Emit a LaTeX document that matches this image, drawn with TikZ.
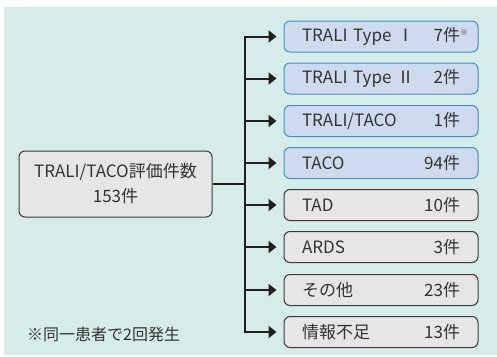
\documentclass[tikz,border=0pt]{standalone}
\usepackage{fontspec}
\setmainfont{Noto Sans CJK JP}
\usetikzlibrary{arrows.meta}

\definecolor{bgmint}{HTML}{D6ECE8}
\definecolor{bluefill}{HTML}{CEDBEF}
\definecolor{blueline}{HTML}{3D8FD4}
\definecolor{grayfill}{HTML}{E6E6E8}
\definecolor{grayline}{HTML}{3A3A3A}
\definecolor{textgray}{HTML}{333333}

\tikzset{
  bluebox/.style={fill=bluefill, draw=blueline},
  graybox/.style={fill=grayfill, draw=grayline},
}

\begin{document}
\begin{tikzpicture}[x=1pt,y=-1pt]

      \useasboundingbox (0,0) rectangle (497,356);
      \fill[bgmint] (4,7) rectangle (497,355);

      \begin{scope}[every node/.style={rounded corners=6pt, line width=1pt, minimum height=31pt,
          text width=158pt, inner xsep=18pt, inner ysep=0pt, text=textgray,
          font=\fontsize{17}{20}\selectfont}]
        \node[bluebox] (1) at (381,36.5)  {TRALI Type Ⅰ\hfill 7件\rlap{\raisebox{6pt}{\fontsize{8}{8}\selectfont ※}}};
        \node[bluebox] (2) at (381,78.5)  {TRALI Type Ⅱ\hfill 2件};
        \node[bluebox] (3) at (381,121)   {TRALI/TACO\hfill 1件};
        \node[bluebox] (4) at (381,163)   {TACO\hfill 94件};
        \node[graybox] (5) at (381,205)   {TAD\hfill 10件};
        \node[graybox] (6) at (381,247)   {ARDS\hfill 3件};
        \node[graybox] (7) at (381,290)   {その他\hfill 23件};
        \node[graybox] (8) at (381,332)   {情報不足\hfill 13件};
      \end{scope}

      \node[graybox, rounded corners=6pt, line width=1pt, minimum width=193pt, minimum height=66pt,
        align=center, text=textgray, font=\fontsize{17}{25}\selectfont]
        (total) at (115.5,184) {TRALI/TACO評価件数\\153件};

      \node[anchor=west, inner sep=0pt, text=textgray, font=\fontsize{16}{20}\selectfont]
        (note) at (27,334) {※同一患者で2回発生};

      \coordinate (trunk) at (245,184);

      \begin{scope}[line width=2pt, draw=black!88]
        \draw (total) -- (trunk);
        \draw[line cap=rect] (trunk |- 1) -- (trunk |- 8);

        \begin{scope}[every edge/.style={draw, -{Triangle[length=8pt,width=12pt]}, shorten >=7pt}]
          \path (trunk |- 1) edge (1);
          \path (trunk |- 2) edge (2);
          \path (trunk |- 3) edge (3);
          \path (trunk |- 4) edge (4);
          \path (trunk |- 5) edge (5);
          \path (trunk |- 6) edge (6);
          \path (trunk |- 7) edge (7);
          \path (trunk |- 8) edge (8);
        \end{scope}
      \end{scope}

    \end{tikzpicture}
\end{document}
